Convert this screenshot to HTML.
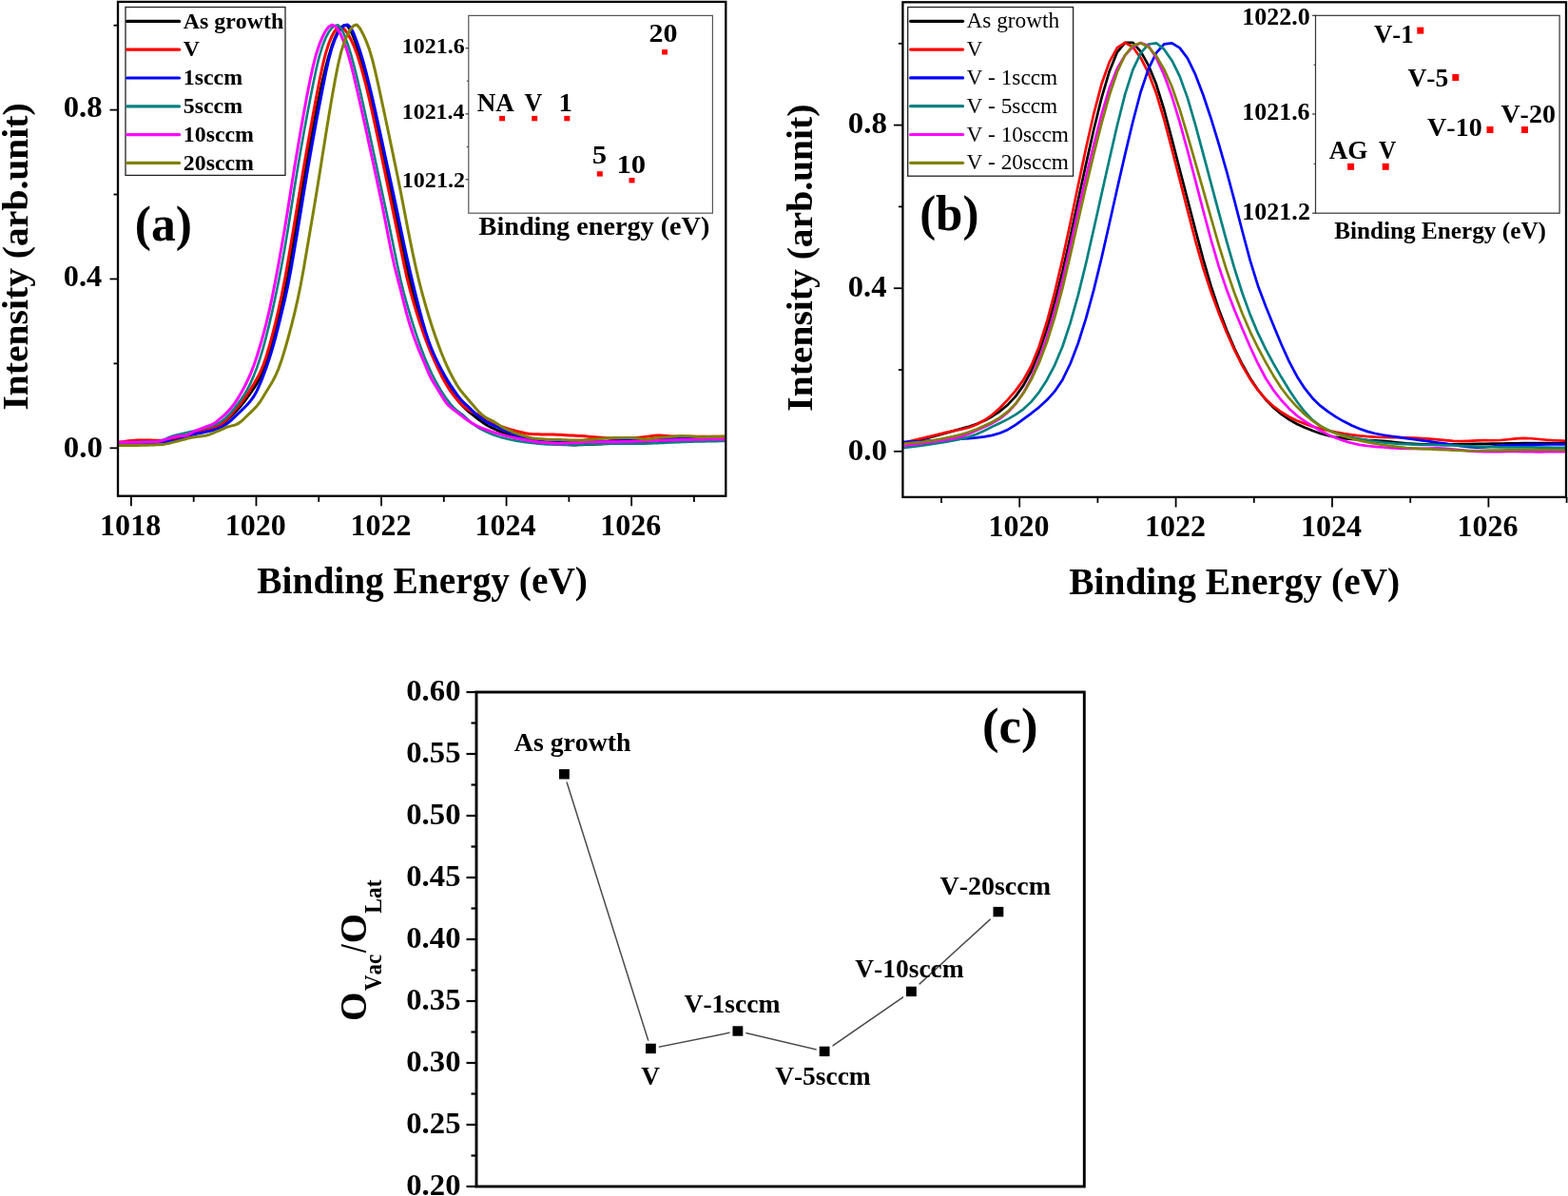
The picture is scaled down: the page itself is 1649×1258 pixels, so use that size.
<!DOCTYPE html>
<html><head><meta charset="utf-8"><title>XPS figure</title>
<style>
html,body{margin:0;padding:0;background:#fff;}
body{width:1649px;height:1258px;overflow:hidden;}
svg{display:block;}
svg text{font-family:"Liberation Serif","Times New Roman",serif;font-kerning:none;}
</style></head>
<body>
<svg width="1649" height="1258" viewBox="0 0 1649 1258">
<rect x="0" y="0" width="1649" height="1258" fill="#fff"/>
<clipPath id="ca"><rect x="124" y="0" width="639.3" height="521"/></clipPath>
<g clip-path="url(#ca)">
<path d="M122.00,466.26 L125.29,466.11 L128.58,466.05 L131.87,466.01 L135.16,465.98 L138.44,465.93 L141.73,465.87 L145.02,465.79 L148.31,465.70 L151.60,465.60 L154.89,465.48 L158.18,465.33 L161.47,465.15 L164.76,464.92 L168.05,464.66 L171.34,464.38 L174.62,464.08 L177.91,463.75 L181.20,463.40 L184.49,462.96 L187.78,462.26 L191.07,461.15 L194.36,459.77 L197.65,458.38 L200.94,457.17 L204.23,456.21 L207.51,455.34 L210.80,454.45 L214.09,453.53 L217.38,452.58 L220.67,451.59 L223.96,450.50 L227.25,449.27 L230.54,447.78 L233.83,445.83 L237.12,443.31 L240.40,440.36 L243.69,437.11 L246.98,433.72 L250.27,430.24 L253.56,426.51 L256.85,422.38 L260.14,417.91 L263.43,413.35 L266.72,408.64 L270.01,403.45 L273.29,397.41 L276.58,390.09 L279.87,381.19 L283.16,370.93 L286.45,359.56 L289.74,347.18 L293.03,334.11 L296.32,320.64 L299.61,306.30 L302.90,289.69 L306.18,270.33 L309.47,250.14 L312.76,230.06 L316.05,209.97 L319.34,190.39 L322.63,171.54 L325.92,153.16 L329.21,135.20 L332.50,117.83 L335.79,101.32 L339.07,85.91 L342.36,71.84 L345.65,59.33 L348.94,48.60 L352.23,39.84 L355.52,33.20 L358.81,28.75 L362.10,26.50 L365.39,27.05 L368.68,31.86 L371.96,39.28 L375.25,48.64 L378.54,59.56 L381.83,71.72 L385.12,84.87 L388.41,98.69 L391.70,112.91 L394.99,127.45 L398.28,142.25 L401.57,157.20 L404.85,172.20 L408.14,187.23 L411.43,202.52 L414.72,218.32 L418.01,234.34 L421.30,250.28 L424.59,266.08 L427.88,281.49 L431.17,295.76 L434.46,308.55 L437.74,320.30 L441.03,331.38 L444.32,341.88 L447.61,351.81 L450.90,361.18 L454.19,369.99 L457.48,378.24 L460.77,385.90 L464.06,392.91 L467.35,399.27 L470.63,405.07 L473.92,410.38 L477.21,415.26 L480.50,419.71 L483.79,423.75 L487.08,427.38 L490.37,430.62 L493.66,433.51 L496.95,436.18 L500.24,438.72 L503.52,441.18 L506.81,443.64 L510.10,446.02 L513.39,448.02 L516.68,449.66 L519.97,451.16 L523.26,452.66 L526.55,454.11 L529.84,455.45 L533.13,456.67 L536.41,457.78 L539.70,458.79 L542.99,459.71 L546.28,460.54 L549.57,461.26 L552.86,461.83 L556.15,462.28 L559.44,462.70 L562.73,463.19 L566.02,463.80 L569.30,464.47 L572.59,465.09 L575.88,465.57 L579.17,465.96 L582.46,466.32 L585.75,466.65 L589.04,466.97 L592.33,467.27 L595.62,467.55 L598.91,467.78 L602.19,467.91 L605.48,467.90 L608.77,467.82 L612.06,467.71 L615.35,467.60 L618.64,467.49 L621.93,467.36 L625.22,467.24 L628.51,467.11 L631.80,466.98 L635.08,466.85 L638.37,466.71 L641.66,466.57 L644.95,466.43 L648.24,466.29 L651.53,466.15 L654.82,466.00 L658.11,465.86 L661.40,465.71 L664.69,465.56 L667.97,465.40 L671.26,465.25 L674.55,465.10 L677.84,464.94 L681.13,464.79 L684.42,464.64 L687.71,464.48 L691.00,464.33 L694.29,464.17 L697.58,464.02 L700.86,463.87 L704.15,463.71 L707.44,463.56 L710.73,463.40 L714.02,463.25 L717.31,463.13 L720.60,463.06 L723.89,463.01 L727.18,462.97 L730.47,462.93 L733.75,462.89 L737.04,462.85 L740.33,462.81 L743.62,462.77 L746.91,462.73 L750.20,462.69 L753.49,462.65 L756.78,462.62 L760.07,462.60 L763.36,462.59" fill="none" stroke="#000000" stroke-width="3.0" stroke-linejoin="round"/>
<path d="M122.00,465.42 L125.29,465.10 L128.58,464.70 L131.87,464.24 L135.16,463.79 L138.44,463.42 L141.73,463.20 L145.02,463.10 L148.31,463.05 L151.60,463.02 L154.89,463.05 L158.18,463.12 L161.47,463.20 L164.76,463.25 L168.05,463.21 L171.34,462.97 L174.62,462.51 L177.91,461.93 L181.20,461.30 L184.49,460.65 L187.78,459.96 L191.07,459.24 L194.36,458.48 L197.65,457.68 L200.94,456.83 L204.23,455.93 L207.51,454.96 L210.80,453.92 L214.09,452.81 L217.38,451.68 L220.67,450.63 L223.96,449.67 L227.25,448.65 L230.54,447.35 L233.83,445.43 L237.12,442.65 L240.40,439.25 L243.69,435.50 L246.98,431.64 L250.27,427.80 L253.56,423.80 L256.85,419.45 L260.14,414.71 L263.43,409.59 L266.72,404.16 L270.01,398.61 L273.29,392.51 L276.58,384.89 L279.87,375.44 L283.16,364.55 L286.45,352.47 L289.74,339.31 L293.03,325.22 L296.32,310.13 L299.61,293.46 L302.90,274.92 L306.18,255.50 L309.47,235.95 L312.76,216.10 L316.05,196.22 L319.34,176.79 L322.63,157.74 L325.92,138.99 L329.21,120.70 L332.50,102.95 L335.79,85.86 L339.07,70.04 L342.36,56.61 L345.65,46.17 L348.94,38.19 L352.23,32.36 L355.52,29.10 L358.81,28.70 L362.10,30.77 L365.39,34.88 L368.68,40.67 L371.96,47.83 L375.25,56.41 L378.54,66.54 L381.83,78.03 L385.12,90.68 L388.41,104.40 L391.70,119.02 L394.99,134.23 L398.28,149.79 L401.57,165.53 L404.85,181.34 L408.14,197.17 L411.43,213.03 L414.72,228.90 L418.01,244.81 L421.30,260.83 L424.59,276.81 L427.88,291.74 L431.17,304.88 L434.46,316.67 L437.74,327.69 L441.03,338.09 L444.32,347.86 L447.61,357.01 L450.90,365.54 L454.19,373.46 L457.48,380.85 L460.77,387.90 L464.06,394.72 L467.35,401.01 L470.63,406.60 L473.92,411.56 L477.21,416.05 L480.50,420.14 L483.79,423.83 L487.08,427.04 L490.37,429.66 L493.66,431.72 L496.95,433.41 L500.24,434.93 L503.52,436.57 L506.81,438.48 L510.10,440.47 L513.39,442.34 L516.68,444.06 L519.97,445.62 L523.26,447.03 L526.55,448.31 L529.84,449.49 L533.13,450.58 L536.41,451.59 L539.70,452.53 L542.99,453.40 L546.28,454.23 L549.57,455.00 L552.86,455.71 L556.15,456.26 L559.44,456.58 L562.73,456.75 L566.02,456.85 L569.30,456.93 L572.59,456.99 L575.88,457.04 L579.17,457.07 L582.46,457.11 L585.75,457.19 L589.04,457.34 L592.33,457.52 L595.62,457.71 L598.91,457.88 L602.19,458.05 L605.48,458.22 L608.77,458.39 L612.06,458.61 L615.35,458.87 L618.64,459.15 L621.93,459.43 L625.22,459.71 L628.51,459.99 L631.80,460.26 L635.08,460.54 L638.37,460.84 L641.66,461.15 L644.95,461.44 L648.24,461.62 L651.53,461.60 L654.82,461.43 L658.11,461.21 L661.40,460.97 L664.69,460.73 L667.97,460.49 L671.26,460.24 L674.55,459.95 L677.84,459.59 L681.13,459.13 L684.42,458.65 L687.71,458.24 L691.00,458.05 L694.29,458.11 L697.58,458.30 L700.86,458.52 L704.15,458.74 L707.44,458.95 L710.73,459.10 L714.02,459.16 L717.31,459.17 L720.60,459.18 L723.89,459.18 L727.18,459.18 L730.47,459.18 L733.75,459.17 L737.04,459.17 L740.33,459.17 L743.62,459.17 L746.91,459.17 L750.20,459.17 L753.49,459.17 L756.78,459.18 L760.07,459.19 L763.36,459.22" fill="none" stroke="#FF0000" stroke-width="3.0" stroke-linejoin="round"/>
<path d="M122.00,466.73 L125.29,466.58 L128.58,466.49 L131.87,466.43 L135.16,466.36 L138.44,466.28 L141.73,466.19 L145.02,466.09 L148.31,465.98 L151.60,465.85 L154.89,465.71 L158.18,465.54 L161.47,465.36 L164.76,465.15 L168.05,464.92 L171.34,464.67 L174.62,464.40 L177.91,464.11 L181.20,463.79 L184.49,463.39 L187.78,462.70 L191.07,461.56 L194.36,460.13 L197.65,458.71 L200.94,457.54 L204.23,456.70 L207.51,456.04 L210.80,455.41 L214.09,454.74 L217.38,454.04 L220.67,453.29 L223.96,452.45 L227.25,451.43 L230.54,450.14 L233.83,448.58 L237.12,446.71 L240.40,444.37 L243.69,441.54 L246.98,438.37 L250.27,435.18 L253.56,432.10 L256.85,428.91 L260.14,425.44 L263.43,421.69 L266.72,417.25 L270.01,411.47 L273.29,404.21 L276.58,396.09 L279.87,387.32 L283.16,377.63 L286.45,366.87 L289.74,354.99 L293.03,342.16 L296.32,328.73 L299.61,314.79 L302.90,299.65 L306.18,282.44 L309.47,263.51 L312.76,243.98 L316.05,224.00 L319.34,203.78 L322.63,184.10 L325.92,165.07 L329.21,146.53 L332.50,128.56 L335.79,111.20 L339.07,94.20 L342.36,77.68 L345.65,62.77 L348.94,50.63 L352.23,41.28 L355.52,34.30 L358.81,29.48 L362.10,26.75 L365.39,26.00 L368.68,28.72 L371.96,35.22 L375.25,43.69 L378.54,53.34 L381.83,64.19 L385.12,76.33 L388.41,89.50 L391.70,103.45 L394.99,117.97 L398.28,132.85 L401.57,147.94 L404.85,163.08 L408.14,178.18 L411.43,193.29 L414.72,208.59 L418.01,224.18 L421.30,239.89 L424.59,255.44 L427.88,270.58 L431.17,285.13 L434.46,299.08 L437.74,312.47 L441.03,325.32 L444.32,337.55 L447.61,348.95 L450.90,359.04 L454.19,367.63 L457.48,375.15 L460.77,382.01 L464.06,388.34 L467.35,394.36 L470.63,400.08 L473.92,405.22 L477.21,410.08 L480.50,414.85 L483.79,419.21 L487.08,422.84 L490.37,425.91 L493.66,428.88 L496.95,432.09 L500.24,435.23 L503.52,437.89 L506.81,440.30 L510.10,442.66 L513.39,444.68 L516.68,446.32 L519.97,447.78 L523.26,449.25 L526.55,450.83 L529.84,452.42 L533.13,453.92 L536.41,455.31 L539.70,456.60 L542.99,457.81 L546.28,458.93 L549.57,459.98 L552.86,460.96 L556.15,461.89 L559.44,462.76 L562.73,463.56 L566.02,464.22 L569.30,464.65 L572.59,464.87 L575.88,464.99 L579.17,465.06 L582.46,465.12 L585.75,465.15 L589.04,465.16 L592.33,465.16 L595.62,465.14 L598.91,465.11 L602.19,465.07 L605.48,465.02 L608.77,464.96 L612.06,464.90 L615.35,464.82 L618.64,464.74 L621.93,464.66 L625.22,464.57 L628.51,464.47 L631.80,464.37 L635.08,464.26 L638.37,464.15 L641.66,464.04 L644.95,463.93 L648.24,463.81 L651.53,463.67 L654.82,463.50 L658.11,463.35 L661.40,463.25 L664.69,463.19 L667.97,463.15 L671.26,463.12 L674.55,463.06 L677.84,462.97 L681.13,462.83 L684.42,462.63 L687.71,462.41 L691.00,462.24 L694.29,462.10 L697.58,461.97 L700.86,461.85 L704.15,461.72 L707.44,461.59 L710.73,461.46 L714.02,461.34 L717.31,461.28 L720.60,461.32 L723.89,461.42 L727.18,461.53 L730.47,461.64 L733.75,461.75 L737.04,461.86 L740.33,461.98 L743.62,462.09 L746.91,462.20 L750.20,462.31 L753.49,462.42 L756.78,462.51 L760.07,462.56 L763.36,462.59" fill="none" stroke="#0000FF" stroke-width="3.0" stroke-linejoin="round"/>
<path d="M122.00,465.77 L125.29,465.58 L128.58,465.45 L131.87,465.35 L135.16,465.24 L138.44,465.12 L141.73,464.98 L145.02,464.83 L148.31,464.69 L151.60,464.57 L154.89,464.47 L158.18,464.38 L161.47,464.27 L164.76,464.09 L168.05,463.70 L171.34,462.83 L174.62,461.46 L177.91,459.95 L181.20,458.70 L184.49,457.81 L187.78,457.08 L191.07,456.35 L194.36,455.60 L197.65,454.81 L200.94,454.02 L204.23,453.23 L207.51,452.41 L210.80,451.53 L214.09,450.60 L217.38,449.65 L220.67,448.68 L223.96,447.64 L227.25,446.41 L230.54,444.78 L233.83,442.54 L237.12,439.75 L240.40,436.53 L243.69,432.92 L246.98,428.90 L250.27,424.57 L253.56,420.03 L256.85,415.12 L260.14,409.54 L263.43,403.08 L266.72,395.63 L270.01,387.10 L273.29,377.43 L276.58,366.56 L279.87,354.42 L283.16,341.11 L286.45,326.86 L289.74,311.78 L293.03,295.73 L296.32,278.57 L299.61,260.21 L302.90,240.53 L306.18,219.70 L309.47,198.75 L312.76,178.65 L316.05,159.39 L319.34,140.77 L322.63,122.82 L325.92,105.51 L329.21,88.72 L332.50,72.92 L335.79,59.29 L339.07,48.54 L342.36,40.22 L345.65,33.84 L348.94,29.40 L352.23,26.93 L355.52,26.30 L358.81,29.80 L362.10,36.69 L365.39,45.58 L368.68,55.92 L371.96,67.72 L375.25,80.83 L378.54,94.84 L381.83,109.37 L385.12,124.25 L388.41,139.40 L391.70,154.74 L394.99,170.13 L398.28,185.47 L401.57,200.72 L404.85,215.94 L408.14,231.34 L411.43,247.20 L414.72,263.39 L418.01,279.38 L421.30,294.25 L424.59,307.49 L427.88,319.53 L431.17,330.85 L434.46,341.55 L437.74,351.66 L441.03,361.17 L444.32,370.09 L447.61,378.43 L450.90,386.17 L454.19,393.26 L457.48,399.67 L460.77,405.57 L464.06,411.16 L467.35,416.32 L470.63,420.92 L473.92,425.06 L477.21,428.77 L480.50,431.83 L483.79,434.22 L487.08,436.60 L490.37,439.60 L493.66,442.84 L496.95,445.65 L500.24,448.00 L503.52,450.06 L506.81,451.93 L510.10,453.62 L513.39,455.14 L516.68,456.51 L519.97,457.75 L523.26,458.87 L526.55,459.88 L529.84,460.79 L533.13,461.61 L536.41,462.34 L539.70,462.99 L542.99,463.61 L546.28,464.18 L549.57,464.70 L552.86,465.16 L556.15,465.58 L559.44,465.96 L562.73,466.31 L566.02,466.64 L569.30,466.93 L572.59,467.19 L575.88,467.38 L579.17,467.52 L582.46,467.63 L585.75,467.72 L589.04,467.80 L592.33,467.87 L595.62,467.93 L598.91,467.97 L602.19,467.96 L605.48,467.89 L608.77,467.78 L612.06,467.67 L615.35,467.55 L618.64,467.42 L621.93,467.30 L625.22,467.17 L628.51,467.04 L631.80,466.91 L635.08,466.78 L638.37,466.69 L641.66,466.66 L644.95,466.65 L648.24,466.65 L651.53,466.65 L654.82,466.65 L658.11,466.65 L661.40,466.65 L664.69,466.65 L667.97,466.65 L671.26,466.65 L674.55,466.64 L677.84,466.61 L681.13,466.54 L684.42,466.41 L687.71,466.27 L691.00,466.13 L694.29,465.98 L697.58,465.84 L700.86,465.70 L704.15,465.55 L707.44,465.41 L710.73,465.26 L714.02,465.12 L717.31,464.97 L720.60,464.83 L723.89,464.71 L727.18,464.62 L730.47,464.54 L733.75,464.48 L737.04,464.41 L740.33,464.34 L743.62,464.27 L746.91,464.21 L750.20,464.14 L753.49,464.08 L756.78,464.02 L760.07,463.99 L763.36,463.98" fill="none" stroke="#008080" stroke-width="2.6" stroke-linejoin="round"/>
<path d="M122.00,465.56 L125.29,465.41 L128.58,465.36 L131.87,465.35 L135.16,465.33 L138.44,465.30 L141.73,465.26 L145.02,465.20 L148.31,465.13 L151.60,465.03 L154.89,464.92 L158.18,464.79 L161.47,464.64 L164.76,464.42 L168.05,463.99 L171.34,463.20 L174.62,462.17 L177.91,461.09 L181.20,460.10 L184.49,459.27 L187.78,458.69 L191.07,458.49 L194.36,458.38 L197.65,457.49 L200.94,455.60 L204.23,453.78 L207.51,452.39 L210.80,451.10 L214.09,449.82 L217.38,448.61 L220.67,447.49 L223.96,446.11 L227.25,443.99 L230.54,441.21 L233.83,438.32 L237.12,435.35 L240.40,432.01 L243.69,428.17 L246.98,423.80 L250.27,418.85 L253.56,413.32 L256.85,407.25 L260.14,400.64 L263.43,393.36 L266.72,384.94 L270.01,375.23 L273.29,364.52 L276.58,353.06 L279.87,340.68 L283.16,326.94 L286.45,311.61 L289.74,294.85 L293.03,276.99 L296.32,258.52 L299.61,239.41 L302.90,219.04 L306.18,197.98 L309.47,177.49 L312.76,157.72 L316.05,138.42 L319.34,119.71 L322.63,101.82 L325.92,85.03 L329.21,69.82 L332.50,56.99 L335.79,46.94 L339.07,38.98 L342.36,32.62 L345.65,28.28 L348.94,26.30 L352.23,27.31 L355.52,31.23 L358.81,37.30 L362.10,45.07 L365.39,54.55 L368.68,66.05 L371.96,79.30 L375.25,93.48 L378.54,107.96 L381.83,122.62 L385.12,137.55 L388.41,152.72 L391.70,168.00 L394.99,183.29 L398.28,198.65 L401.57,214.29 L404.85,230.64 L408.14,247.79 L411.43,264.42 L414.72,279.29 L418.01,292.43 L421.30,304.98 L424.59,318.08 L427.88,330.81 L431.17,342.04 L434.46,352.00 L437.74,361.08 L441.03,369.41 L444.32,377.23 L447.61,385.00 L450.90,392.73 L454.19,399.48 L457.48,405.04 L460.77,410.19 L464.06,415.62 L467.35,420.99 L470.63,425.32 L473.92,428.51 L477.21,431.15 L480.50,433.59 L483.79,436.07 L487.08,438.68 L490.37,441.16 L493.66,443.36 L496.95,445.40 L500.24,447.31 L503.52,448.94 L506.81,450.29 L510.10,451.49 L513.39,452.69 L516.68,453.91 L519.97,455.04 L523.26,456.01 L526.55,456.89 L529.84,457.74 L533.13,458.58 L536.41,459.40 L539.70,460.17 L542.99,460.90 L546.28,461.58 L549.57,462.22 L552.86,462.84 L556.15,463.42 L559.44,463.98 L562.73,464.51 L566.02,464.98 L569.30,465.35 L572.59,465.63 L575.88,465.87 L579.17,466.09 L582.46,466.30 L585.75,466.44 L589.04,466.47 L592.33,466.37 L595.62,466.21 L598.91,466.03 L602.19,465.84 L605.48,465.65 L608.77,465.45 L612.06,465.25 L615.35,465.05 L618.64,464.86 L621.93,464.72 L625.22,464.66 L628.51,464.65 L631.80,464.66 L635.08,464.66 L638.37,464.66 L641.66,464.66 L644.95,464.66 L648.24,464.65 L651.53,464.64 L654.82,464.62 L658.11,464.55 L661.40,464.46 L664.69,464.35 L667.97,464.23 L671.26,464.12 L674.55,464.01 L677.84,463.90 L681.13,463.79 L684.42,463.68 L687.71,463.57 L691.00,463.46 L694.29,463.35 L697.58,463.24 L700.86,463.13 L704.15,463.01 L707.44,462.90 L710.73,462.79 L714.02,462.67 L717.31,462.58 L720.60,462.50 L723.89,462.45 L727.18,462.39 L730.47,462.34 L733.75,462.28 L737.04,462.23 L740.33,462.17 L743.62,462.11 L746.91,462.06 L750.20,462.00 L753.49,461.94 L756.78,461.90 L760.07,461.88 L763.36,461.88" fill="none" stroke="#FF00FF" stroke-width="3.0" stroke-linejoin="round"/>
<path d="M122.00,468.68 L125.29,468.56 L128.58,468.52 L131.87,468.51 L135.16,468.49 L138.44,468.47 L141.73,468.44 L145.02,468.39 L148.31,468.34 L151.60,468.27 L154.89,468.18 L158.18,468.09 L161.47,467.98 L164.76,467.85 L168.05,467.69 L171.34,467.40 L174.62,466.89 L177.91,466.20 L181.20,465.41 L184.49,464.59 L187.78,463.75 L191.07,462.89 L194.36,461.99 L197.65,461.08 L200.94,460.26 L204.23,459.68 L207.51,459.28 L210.80,458.93 L214.09,458.52 L217.38,457.92 L220.67,456.94 L223.96,455.64 L227.25,454.23 L230.54,452.80 L233.83,451.30 L237.12,449.83 L240.40,448.67 L243.69,447.90 L246.98,447.15 L250.27,445.73 L253.56,443.28 L256.85,440.25 L260.14,437.03 L263.43,433.81 L266.72,430.64 L270.01,427.20 L273.29,423.00 L276.58,417.80 L279.87,412.25 L283.16,406.97 L286.45,401.54 L289.74,395.27 L293.03,387.58 L296.32,378.22 L299.61,367.56 L302.90,356.02 L306.18,343.71 L309.47,330.52 L312.76,316.29 L316.05,300.55 L319.34,282.65 L322.63,263.21 L325.92,243.93 L329.21,224.81 L332.50,205.07 L335.79,184.64 L339.07,163.89 L342.36,143.23 L345.65,123.02 L348.94,103.51 L352.23,85.03 L355.52,68.25 L358.81,54.41 L362.10,44.21 L365.39,36.57 L368.68,30.66 L371.96,26.92 L375.25,26.00 L378.54,29.77 L381.83,35.96 L385.12,43.22 L388.41,51.89 L391.70,63.09 L394.99,76.65 L398.28,91.45 L401.57,106.61 L404.85,121.97 L408.14,137.55 L411.43,153.29 L414.72,169.08 L418.01,184.97 L421.30,201.35 L424.59,218.47 L427.88,235.65 L431.17,252.28 L434.46,268.20 L437.74,283.22 L441.03,297.03 L444.32,309.65 L447.61,321.41 L450.90,332.50 L454.19,342.98 L457.48,352.84 L460.77,362.08 L464.06,370.73 L467.35,378.78 L470.63,386.24 L473.92,393.07 L477.21,399.31 L480.50,405.00 L483.79,409.90 L487.08,414.02 L490.37,417.83 L493.66,421.65 L496.95,425.56 L500.24,429.46 L503.52,433.02 L506.81,436.13 L510.10,438.69 L513.39,440.60 L516.68,442.16 L519.97,443.91 L523.26,446.10 L526.55,448.24 L529.84,450.08 L533.13,451.72 L536.41,453.22 L539.70,454.59 L542.99,455.85 L546.28,457.01 L549.57,458.08 L552.86,459.06 L556.15,459.96 L559.44,460.71 L562.73,461.23 L566.02,461.57 L569.30,461.82 L572.59,462.01 L575.88,462.16 L579.17,462.29 L582.46,462.39 L585.75,462.48 L589.04,462.58 L592.33,462.69 L595.62,462.80 L598.91,462.91 L602.19,463.00 L605.48,463.07 L608.77,463.10 L612.06,463.02 L615.35,462.83 L618.64,462.57 L621.93,462.29 L625.22,462.01 L628.51,461.72 L631.80,461.43 L635.08,461.14 L638.37,460.86 L641.66,460.64 L644.95,460.53 L648.24,460.50 L651.53,460.50 L654.82,460.50 L658.11,460.50 L661.40,460.50 L664.69,460.53 L667.97,460.70 L671.26,461.10 L674.55,461.61 L677.84,461.96 L681.13,461.91 L684.42,461.50 L687.71,460.97 L691.00,460.51 L694.29,460.18 L697.58,459.91 L700.86,459.66 L704.15,459.41 L707.44,459.16 L710.73,458.91 L714.02,458.68 L717.31,458.57 L720.60,458.65 L723.89,458.84 L727.18,459.06 L730.47,459.29 L733.75,459.50 L737.04,459.64 L740.33,459.66 L743.62,459.59 L746.91,459.48 L750.20,459.37 L753.49,459.26 L756.78,459.17 L760.07,459.12 L763.36,459.10" fill="none" stroke="#808000" stroke-width="3.0" stroke-linejoin="round"/>
</g>
<rect x="124.00" y="1.90" width="639.30" height="519.80" stroke="#000" stroke-width="2.3" fill="none"/>
<line x1="115.50" y1="471.30" x2="124.00" y2="471.30" stroke="#000" stroke-width="1.8" stroke-linecap="butt"/>
<line x1="119.50" y1="382.38" x2="124.00" y2="382.38" stroke="#000" stroke-width="1.8" stroke-linecap="butt"/>
<line x1="115.50" y1="293.46" x2="124.00" y2="293.46" stroke="#000" stroke-width="1.8" stroke-linecap="butt"/>
<line x1="119.50" y1="204.54" x2="124.00" y2="204.54" stroke="#000" stroke-width="1.8" stroke-linecap="butt"/>
<line x1="115.50" y1="115.62" x2="124.00" y2="115.62" stroke="#000" stroke-width="1.8" stroke-linecap="butt"/>
<line x1="119.50" y1="26.70" x2="124.00" y2="26.70" stroke="#000" stroke-width="1.8" stroke-linecap="butt"/>
<text x="66.75" y="480.50" font-size="30.50" font-weight="bold" textLength="41.10" lengthAdjust="spacingAndGlyphs" fill="#000">0.0</text>
<text x="66.77" y="301.40" font-size="30.50" font-weight="bold" textLength="40.43" lengthAdjust="spacingAndGlyphs" fill="#000">0.4</text>
<text x="66.75" y="123.40" font-size="30.50" font-weight="bold" textLength="40.93" lengthAdjust="spacingAndGlyphs" fill="#000">0.8</text>
<line x1="137.90" y1="521.70" x2="137.90" y2="532.30" stroke="#000" stroke-width="1.8" stroke-linecap="butt"/>
<line x1="203.68" y1="521.70" x2="203.68" y2="527.90" stroke="#000" stroke-width="1.8" stroke-linecap="butt"/>
<line x1="269.46" y1="521.70" x2="269.46" y2="532.30" stroke="#000" stroke-width="1.8" stroke-linecap="butt"/>
<line x1="335.24" y1="521.70" x2="335.24" y2="527.90" stroke="#000" stroke-width="1.8" stroke-linecap="butt"/>
<line x1="401.02" y1="521.70" x2="401.02" y2="532.30" stroke="#000" stroke-width="1.8" stroke-linecap="butt"/>
<line x1="466.80" y1="521.70" x2="466.80" y2="527.90" stroke="#000" stroke-width="1.8" stroke-linecap="butt"/>
<line x1="532.58" y1="521.70" x2="532.58" y2="532.30" stroke="#000" stroke-width="1.8" stroke-linecap="butt"/>
<line x1="598.36" y1="521.70" x2="598.36" y2="527.90" stroke="#000" stroke-width="1.8" stroke-linecap="butt"/>
<line x1="664.14" y1="521.70" x2="664.14" y2="532.30" stroke="#000" stroke-width="1.8" stroke-linecap="butt"/>
<line x1="729.92" y1="521.70" x2="729.92" y2="527.90" stroke="#000" stroke-width="1.8" stroke-linecap="butt"/>
<text x="105.12" y="563.30" font-size="30.50" font-weight="bold" textLength="64.05" lengthAdjust="spacingAndGlyphs" fill="#000">1018</text>
<text x="236.76" y="563.30" font-size="30.50" font-weight="bold" textLength="64.05" lengthAdjust="spacingAndGlyphs" fill="#000">1020</text>
<text x="368.40" y="563.30" font-size="30.50" font-weight="bold" textLength="64.05" lengthAdjust="spacingAndGlyphs" fill="#000">1022</text>
<text x="499.57" y="563.30" font-size="30.50" font-weight="bold" textLength="64.05" lengthAdjust="spacingAndGlyphs" fill="#000">1024</text>
<text x="631.30" y="563.30" font-size="30.50" font-weight="bold" textLength="64.05" lengthAdjust="spacingAndGlyphs" fill="#000">1026</text>
<text x="270.35" y="623.80" font-size="39.00" font-weight="bold" textLength="347.58" lengthAdjust="spacingAndGlyphs" fill="#000">Binding Energy (eV)</text>
<text transform="translate(28.60,431.53) rotate(-90)" x="0" y="0" font-size="38.50" font-weight="bold" textLength="323.17" lengthAdjust="spacingAndGlyphs" fill="#000">Intensity (arb.unit)</text>
<rect x="132.00" y="7.50" width="168.00" height="176.90" stroke="#222" stroke-width="1.3" fill="none"/>
<line x1="133.60" y1="22.40" x2="188.60" y2="22.40" stroke="#000000" stroke-width="3.2" stroke-linecap="round"/>
<text x="192.77" y="29.60" font-size="23.40" font-weight="bold" textLength="105.41" lengthAdjust="spacingAndGlyphs" fill="#000">As growth</text>
<line x1="133.60" y1="52.20" x2="188.60" y2="52.20" stroke="#FF0000" stroke-width="3.2" stroke-linecap="round"/>
<text x="192.77" y="59.40" font-size="23.40" font-weight="bold" textLength="17.24" lengthAdjust="spacingAndGlyphs" fill="#000">V</text>
<line x1="133.60" y1="82.00" x2="188.60" y2="82.00" stroke="#0000FF" stroke-width="3.2" stroke-linecap="round"/>
<text x="192.77" y="89.20" font-size="23.40" font-weight="bold" textLength="62.29" lengthAdjust="spacingAndGlyphs" fill="#000">1sccm</text>
<line x1="133.60" y1="111.80" x2="188.60" y2="111.80" stroke="#008080" stroke-width="3.2" stroke-linecap="round"/>
<text x="192.77" y="119.00" font-size="23.40" font-weight="bold" textLength="62.29" lengthAdjust="spacingAndGlyphs" fill="#000">5sccm</text>
<line x1="133.60" y1="141.60" x2="188.60" y2="141.60" stroke="#FF00FF" stroke-width="3.2" stroke-linecap="round"/>
<text x="192.77" y="148.80" font-size="23.40" font-weight="bold" textLength="74.23" lengthAdjust="spacingAndGlyphs" fill="#000">10sccm</text>
<line x1="133.60" y1="171.40" x2="188.60" y2="171.40" stroke="#808000" stroke-width="3.2" stroke-linecap="round"/>
<text x="192.77" y="178.60" font-size="23.40" font-weight="bold" textLength="74.23" lengthAdjust="spacingAndGlyphs" fill="#000">20sccm</text>
<text x="141.73" y="253.00" font-size="52.00" font-weight="bold" textLength="60.24" lengthAdjust="spacingAndGlyphs" fill="#000">(a)</text>
<rect x="492.80" y="16.40" width="256.60" height="207.80" stroke="#555" stroke-width="1.2" fill="none"/>
<line x1="489.50" y1="50.70" x2="492.80" y2="50.70" stroke="#333" stroke-width="1.2" stroke-linecap="butt"/>
<line x1="489.50" y1="119.80" x2="492.80" y2="119.80" stroke="#333" stroke-width="1.2" stroke-linecap="butt"/>
<line x1="489.50" y1="188.80" x2="492.80" y2="188.80" stroke="#333" stroke-width="1.2" stroke-linecap="butt"/>
<line x1="490.80" y1="85.20" x2="492.80" y2="85.20" stroke="#333" stroke-width="1.0" stroke-linecap="butt"/>
<line x1="490.80" y1="154.40" x2="492.80" y2="154.40" stroke="#333" stroke-width="1.0" stroke-linecap="butt"/>
<text x="422.78" y="55.80" font-size="22.50" font-weight="bold" textLength="65.92" lengthAdjust="spacingAndGlyphs" fill="#000">1021.6</text>
<text x="422.79" y="125.00" font-size="22.50" font-weight="bold" textLength="65.65" lengthAdjust="spacingAndGlyphs" fill="#000">1021.4</text>
<text x="422.77" y="196.90" font-size="22.50" font-weight="bold" textLength="66.26" lengthAdjust="spacingAndGlyphs" fill="#000">1021.2</text>
<rect x="525.10" y="121.90" width="6.00" height="5.40" fill="#FF0000"/>
<rect x="559.20" y="121.90" width="6.00" height="5.40" fill="#FF0000"/>
<rect x="593.30" y="121.90" width="6.00" height="5.40" fill="#FF0000"/>
<rect x="627.80" y="180.20" width="6.00" height="5.40" fill="#FF0000"/>
<rect x="661.50" y="187.00" width="6.00" height="5.40" fill="#FF0000"/>
<rect x="696.00" y="52.10" width="6.00" height="5.40" fill="#FF0000"/>
<text x="501.68" y="117.20" font-size="28.00" font-weight="bold" textLength="39.11" lengthAdjust="spacingAndGlyphs" fill="#000">NA</text>
<text x="551.41" y="117.20" font-size="28.00" font-weight="bold" textLength="18.78" lengthAdjust="spacingAndGlyphs" fill="#000">V</text>
<text x="587.59" y="117.20" font-size="28.00" font-weight="bold" textLength="14.40" lengthAdjust="spacingAndGlyphs" fill="#000">1</text>
<text x="622.77" y="172.20" font-size="28.00" font-weight="bold" textLength="15.35" lengthAdjust="spacingAndGlyphs" fill="#000">5</text>
<text x="648.44" y="181.90" font-size="28.00" font-weight="bold" textLength="30.73" lengthAdjust="spacingAndGlyphs" fill="#000">10</text>
<text x="682.64" y="43.60" font-size="28.00" font-weight="bold" textLength="30.00" lengthAdjust="spacingAndGlyphs" fill="#000">20</text>
<text x="503.63" y="246.80" font-size="27.20" font-weight="bold" textLength="242.71" lengthAdjust="spacingAndGlyphs" fill="#000">Binding energy (eV)</text>
<clipPath id="cb"><rect x="949.4" y="0" width="697.6" height="522"/></clipPath>
<g clip-path="url(#cb)">
<path d="M936.57,467.89 L944.79,466.71 L953.01,465.36 L961.23,463.80 L969.45,462.06 L977.67,460.15 L985.89,458.06 L994.11,455.78 L1002.33,453.36 L1010.55,450.98 L1018.77,448.69 L1026.99,446.00 L1035.21,442.46 L1043.43,438.00 L1051.65,432.52 L1059.87,425.67 L1068.09,416.89 L1076.31,405.41 L1084.53,390.24 L1092.75,370.44 L1100.97,346.09 L1109.19,317.89 L1117.41,285.52 L1125.63,249.12 L1133.85,210.73 L1142.07,172.71 L1150.29,136.27 L1158.51,102.87 L1166.73,74.92 L1174.95,54.85 L1183.17,44.80 L1191.39,44.87 L1199.61,54.18 L1207.83,68.89 L1216.05,88.78 L1224.27,115.49 L1232.49,146.61 L1240.71,178.51 L1248.93,210.10 L1257.15,241.76 L1265.37,272.62 L1273.59,300.84 L1281.81,325.60 L1290.03,347.32 L1298.25,366.51 L1306.47,383.28 L1314.69,397.74 L1322.91,410.03 L1331.13,420.31 L1339.35,428.80 L1347.57,435.75 L1355.79,441.41 L1364.01,446.03 L1372.23,449.83 L1380.45,453.08 L1388.67,455.95 L1396.89,458.29 L1405.11,459.95 L1413.33,461.08 L1421.55,461.90 L1429.77,462.52 L1437.99,462.99 L1446.21,463.39 L1454.43,463.89 L1462.65,464.64 L1470.87,465.55 L1479.09,466.36 L1487.31,466.94 L1495.53,467.35 L1503.75,467.60 L1511.97,467.63 L1520.19,467.54 L1528.41,467.41 L1536.63,467.26 L1544.85,467.12 L1553.07,466.97 L1561.29,466.82 L1569.51,466.67 L1577.73,466.52 L1585.95,466.38 L1594.17,466.25 L1602.39,466.12 L1610.61,466.02 L1618.83,465.99 L1627.05,466.08 L1635.27,466.22 L1643.49,466.37 L1651.71,466.47 L1659.93,466.54 L1668.15,466.62 L1676.37,466.76 L1684.59,466.96" fill="none" stroke="#000000" stroke-width="2.7" stroke-linejoin="round"/>
<path d="M936.57,468.08 L944.79,466.79 L953.01,465.13 L961.23,463.15 L969.45,461.09 L977.67,459.07 L985.89,457.09 L994.11,455.10 L1002.33,453.29 L1010.55,451.76 L1018.77,449.74 L1026.99,446.49 L1035.21,442.02 L1043.43,436.26 L1051.65,428.97 L1059.87,420.38 L1068.09,410.86 L1076.31,399.61 L1084.53,384.71 L1092.75,364.52 L1100.97,338.53 L1109.19,307.63 L1117.41,272.66 L1125.63,234.47 L1133.85,194.93 L1142.07,156.09 L1150.29,119.54 L1158.51,88.31 L1166.73,65.09 L1174.95,50.09 L1183.17,44.90 L1191.39,49.48 L1199.61,60.93 L1207.83,76.97 L1216.05,98.31 L1224.27,125.84 L1232.49,157.09 L1240.71,189.16 L1248.93,221.32 L1257.15,253.06 L1265.37,282.07 L1273.59,307.20 L1281.81,329.38 L1290.03,349.68 L1298.25,368.17 L1306.47,384.59 L1314.69,398.68 L1322.91,410.39 L1331.13,419.89 L1339.35,427.46 L1347.57,433.51 L1355.79,438.43 L1364.01,442.48 L1372.23,445.83 L1380.45,448.62 L1388.67,450.95 L1396.89,452.94 L1405.11,454.69 L1413.33,456.20 L1421.55,457.42 L1429.77,458.38 L1437.99,459.14 L1446.21,459.69 L1454.43,459.99 L1462.65,460.12 L1470.87,460.21 L1479.09,460.39 L1487.31,460.71 L1495.53,461.14 L1503.75,461.67 L1511.97,462.37 L1520.19,463.14 L1528.41,463.79 L1536.63,464.05 L1544.85,463.80 L1553.07,463.37 L1561.29,463.19 L1569.51,463.26 L1577.73,463.02 L1585.95,462.26 L1594.17,461.37 L1602.39,460.93 L1610.61,461.27 L1618.83,462.03 L1627.05,462.74 L1635.27,463.27 L1643.49,463.68 L1651.71,463.94 L1659.93,464.09 L1668.15,464.18 L1676.37,464.25 L1684.59,464.31" fill="none" stroke="#FF0000" stroke-width="2.7" stroke-linejoin="round"/>
<path d="M936.57,465.58 L944.79,465.18 L953.01,464.76 L961.23,464.36 L969.45,463.98 L977.67,463.57 L985.89,463.14 L994.11,462.69 L1002.33,462.24 L1010.55,461.72 L1018.77,461.08 L1026.99,460.29 L1035.21,459.31 L1043.43,457.89 L1051.65,455.54 L1059.87,451.90 L1068.09,446.88 L1076.31,440.92 L1084.53,434.81 L1092.75,428.34 L1100.97,420.82 L1109.19,411.71 L1117.41,399.46 L1125.63,382.53 L1133.85,361.02 L1142.07,334.94 L1150.29,304.92 L1158.51,271.16 L1166.73,234.96 L1174.95,198.18 L1183.17,162.33 L1191.39,127.99 L1199.61,96.74 L1207.83,72.41 L1216.05,55.69 L1224.27,46.32 L1232.49,45.30 L1240.71,50.41 L1248.93,61.36 L1257.15,78.41 L1265.37,100.00 L1273.59,124.63 L1281.81,151.56 L1290.03,180.40 L1298.25,211.10 L1306.47,243.00 L1314.69,273.89 L1322.91,300.47 L1331.13,322.34 L1339.35,342.52 L1347.57,362.20 L1355.79,380.36 L1364.01,395.94 L1372.23,408.66 L1380.45,418.94 L1388.67,426.92 L1396.89,433.19 L1405.11,438.58 L1413.33,443.31 L1421.55,447.46 L1429.77,451.04 L1437.99,453.89 L1446.21,455.97 L1454.43,457.49 L1462.65,458.73 L1470.87,459.92 L1479.09,461.09 L1487.31,462.22 L1495.53,463.31 L1503.75,464.38 L1511.97,465.48 L1520.19,466.71 L1528.41,468.04 L1536.63,469.27 L1544.85,470.15 L1553.07,470.55 L1561.29,470.40 L1569.51,469.70 L1577.73,468.88 L1585.95,468.34 L1594.17,468.04 L1602.39,467.85 L1610.61,467.71 L1618.83,467.59 L1627.05,467.48 L1635.27,467.37 L1643.49,467.29 L1651.71,467.31 L1659.93,467.43 L1668.15,467.67 L1676.37,468.18 L1684.59,468.90" fill="none" stroke="#0000FF" stroke-width="2.7" stroke-linejoin="round"/>
<path d="M936.57,472.53 L944.79,471.58 L953.01,470.59 L961.23,469.58 L969.45,468.54 L977.67,467.44 L985.89,466.24 L994.11,464.90 L1002.33,463.38 L1010.55,461.63 L1018.77,459.54 L1026.99,456.73 L1035.21,453.00 L1043.43,448.90 L1051.65,444.95 L1059.87,440.89 L1068.09,436.20 L1076.31,430.34 L1084.53,422.63 L1092.75,412.52 L1100.97,399.73 L1109.19,384.09 L1117.41,364.45 L1125.63,339.67 L1133.85,310.41 L1142.07,277.00 L1150.29,240.77 L1158.51,203.93 L1166.73,167.52 L1174.95,131.80 L1183.17,99.05 L1191.39,73.44 L1199.61,55.96 L1207.83,46.48 L1216.05,45.30 L1224.27,51.90 L1232.49,63.68 L1240.71,80.34 L1248.93,103.16 L1257.15,131.39 L1265.37,161.93 L1273.59,192.83 L1281.81,223.61 L1290.03,253.83 L1298.25,282.45 L1306.47,308.27 L1314.69,330.89 L1322.91,350.44 L1331.13,367.40 L1339.35,382.62 L1347.57,396.81 L1355.79,410.17 L1364.01,422.50 L1372.23,433.30 L1380.45,441.89 L1388.67,448.07 L1396.89,452.48 L1405.11,455.74 L1413.33,458.16 L1421.55,460.03 L1429.77,461.62 L1437.99,463.10 L1446.21,464.39 L1454.43,465.42 L1462.65,466.20 L1470.87,466.78 L1479.09,467.21 L1487.31,467.54 L1495.53,467.79 L1503.75,467.99 L1511.97,468.15 L1520.19,468.29 L1528.41,468.50 L1536.63,468.82 L1544.85,469.22 L1553.07,469.62 L1561.29,469.97 L1569.51,470.19 L1577.73,470.28 L1585.95,470.30 L1594.17,470.30 L1602.39,470.33 L1610.61,470.41 L1618.83,470.53 L1627.05,470.66 L1635.27,470.79 L1643.49,470.91 L1651.71,471.00 L1659.93,471.07 L1668.15,471.12 L1676.37,471.13 L1684.59,471.12" fill="none" stroke="#008080" stroke-width="2.7" stroke-linejoin="round"/>
<path d="M936.57,470.42 L944.79,469.49 L953.01,468.52 L961.23,467.51 L969.45,466.39 L977.67,465.13 L985.89,463.88 L994.11,462.78 L1002.33,461.45 L1010.55,459.21 L1018.77,456.17 L1026.99,452.74 L1035.21,449.10 L1043.43,445.18 L1051.65,440.35 L1059.87,433.80 L1068.09,424.90 L1076.31,413.04 L1084.53,397.62 L1092.75,378.23 L1100.97,354.72 L1109.19,326.94 L1117.41,294.71 L1125.63,258.61 L1133.85,221.50 L1142.07,186.13 L1150.29,152.32 L1158.51,120.20 L1166.73,92.51 L1174.95,72.03 L1183.17,58.20 L1191.39,49.35 L1199.61,45.00 L1207.83,48.33 L1216.05,60.92 L1224.27,78.93 L1232.49,101.53 L1240.71,128.67 L1248.93,158.69 L1257.15,189.92 L1265.37,221.50 L1273.59,252.27 L1281.81,280.33 L1290.03,304.69 L1298.25,326.03 L1306.47,345.83 L1314.69,364.75 L1322.91,382.49 L1331.13,398.00 L1339.35,410.60 L1347.57,420.97 L1355.79,429.89 L1364.01,437.24 L1372.23,443.09 L1380.45,448.16 L1388.67,452.89 L1396.89,457.14 L1405.11,460.74 L1413.33,463.69 L1421.55,466.05 L1429.77,467.81 L1437.99,469.00 L1446.21,469.83 L1454.43,470.50 L1462.65,471.13 L1470.87,471.67 L1479.09,471.98 L1487.31,471.97 L1495.53,471.78 L1503.75,471.54 L1511.97,471.46 L1520.19,471.79 L1528.41,472.52 L1536.63,473.43 L1544.85,474.31 L1553.07,474.95 L1561.29,475.20 L1569.51,475.17 L1577.73,475.05 L1585.95,474.96 L1594.17,474.95 L1602.39,475.06 L1610.61,475.21 L1618.83,475.29 L1627.05,475.27 L1635.27,475.18 L1643.49,475.10 L1651.71,475.07 L1659.93,475.10 L1668.15,475.17 L1676.37,475.26 L1684.59,475.37" fill="none" stroke="#FF00FF" stroke-width="2.7" stroke-linejoin="round"/>
<path d="M936.57,467.74 L944.79,466.94 L953.01,466.26 L961.23,465.65 L969.45,464.86 L977.67,463.73 L985.89,462.34 L994.11,460.79 L1002.33,459.07 L1010.55,457.07 L1018.77,454.57 L1026.99,451.40 L1035.21,447.82 L1043.43,443.91 L1051.65,439.19 L1059.87,432.95 L1068.09,424.60 L1076.31,413.56 L1084.53,399.36 L1092.75,381.71 L1100.97,360.01 L1109.19,333.79 L1117.41,303.09 L1125.63,268.39 L1133.85,232.23 L1142.07,196.55 L1150.29,162.14 L1158.51,129.55 L1166.73,100.04 L1174.95,75.79 L1183.17,58.01 L1191.39,47.87 L1199.61,45.30 L1207.83,49.46 L1216.05,58.99 L1224.27,72.84 L1232.49,91.22 L1240.71,115.15 L1248.93,142.65 L1257.15,171.12 L1265.37,199.89 L1273.59,229.13 L1281.81,257.92 L1290.03,284.39 L1298.25,308.22 L1306.47,329.71 L1314.69,348.79 L1322.91,365.72 L1331.13,381.14 L1339.35,395.45 L1347.57,408.23 L1355.79,418.96 L1364.01,428.08 L1372.23,435.99 L1380.45,442.73 L1388.67,448.27 L1396.89,452.64 L1405.11,456.08 L1413.33,458.90 L1421.55,461.30 L1429.77,463.39 L1437.99,465.18 L1446.21,466.71 L1454.43,468.04 L1462.65,469.20 L1470.87,470.19 L1479.09,470.98 L1487.31,471.58 L1495.53,472.03 L1503.75,472.42 L1511.97,472.79 L1520.19,473.17 L1528.41,473.56 L1536.63,473.88 L1544.85,474.03 L1553.07,474.00 L1561.29,473.87 L1569.51,473.71 L1577.73,473.56 L1585.95,473.42 L1594.17,473.29 L1602.39,473.16 L1610.61,473.06 L1618.83,473.03 L1627.05,473.12 L1635.27,473.26 L1643.49,473.41 L1651.71,473.53 L1659.93,473.63 L1668.15,473.75 L1676.37,473.94 L1684.59,474.19" fill="none" stroke="#808000" stroke-width="2.7" stroke-linejoin="round"/>
</g>
<rect x="949.40" y="2.30" width="697.60" height="520.60" stroke="#000" stroke-width="2.3" fill="none"/>
<line x1="939.90" y1="474.80" x2="949.40" y2="474.80" stroke="#000" stroke-width="1.8" stroke-linecap="butt"/>
<line x1="944.90" y1="389.00" x2="949.40" y2="389.00" stroke="#000" stroke-width="1.8" stroke-linecap="butt"/>
<line x1="939.90" y1="303.20" x2="949.40" y2="303.20" stroke="#000" stroke-width="1.8" stroke-linecap="butt"/>
<line x1="944.90" y1="217.40" x2="949.40" y2="217.40" stroke="#000" stroke-width="1.8" stroke-linecap="butt"/>
<line x1="939.90" y1="131.60" x2="949.40" y2="131.60" stroke="#000" stroke-width="1.8" stroke-linecap="butt"/>
<line x1="944.90" y1="45.80" x2="949.40" y2="45.80" stroke="#000" stroke-width="1.8" stroke-linecap="butt"/>
<text x="891.74" y="483.80" font-size="30.50" font-weight="bold" textLength="41.32" lengthAdjust="spacingAndGlyphs" fill="#000">0.0</text>
<text x="891.76" y="312.10" font-size="30.50" font-weight="bold" textLength="40.64" lengthAdjust="spacingAndGlyphs" fill="#000">0.4</text>
<text x="891.75" y="140.30" font-size="30.50" font-weight="bold" textLength="41.15" lengthAdjust="spacingAndGlyphs" fill="#000">0.8</text>
<line x1="990.00" y1="522.90" x2="990.00" y2="528.90" stroke="#000" stroke-width="1.8" stroke-linecap="butt"/>
<line x1="1072.20" y1="522.90" x2="1072.20" y2="533.50" stroke="#000" stroke-width="1.8" stroke-linecap="butt"/>
<line x1="1154.40" y1="522.90" x2="1154.40" y2="528.90" stroke="#000" stroke-width="1.8" stroke-linecap="butt"/>
<line x1="1236.60" y1="522.90" x2="1236.60" y2="533.50" stroke="#000" stroke-width="1.8" stroke-linecap="butt"/>
<line x1="1318.80" y1="522.90" x2="1318.80" y2="528.90" stroke="#000" stroke-width="1.8" stroke-linecap="butt"/>
<line x1="1401.00" y1="522.90" x2="1401.00" y2="533.50" stroke="#000" stroke-width="1.8" stroke-linecap="butt"/>
<line x1="1483.20" y1="522.90" x2="1483.20" y2="528.90" stroke="#000" stroke-width="1.8" stroke-linecap="butt"/>
<line x1="1565.40" y1="522.90" x2="1565.40" y2="533.50" stroke="#000" stroke-width="1.8" stroke-linecap="butt"/>
<line x1="1647.60" y1="522.90" x2="1647.60" y2="528.90" stroke="#000" stroke-width="1.8" stroke-linecap="butt"/>
<text x="1039.50" y="564.30" font-size="30.50" font-weight="bold" textLength="64.05" lengthAdjust="spacingAndGlyphs" fill="#000">1020</text>
<text x="1203.98" y="564.30" font-size="30.50" font-weight="bold" textLength="64.05" lengthAdjust="spacingAndGlyphs" fill="#000">1022</text>
<text x="1367.99" y="564.30" font-size="30.50" font-weight="bold" textLength="64.05" lengthAdjust="spacingAndGlyphs" fill="#000">1024</text>
<text x="1532.56" y="564.30" font-size="30.50" font-weight="bold" textLength="64.05" lengthAdjust="spacingAndGlyphs" fill="#000">1026</text>
<text x="1124.35" y="624.70" font-size="39.00" font-weight="bold" textLength="347.88" lengthAdjust="spacingAndGlyphs" fill="#000">Binding Energy (eV)</text>
<text transform="translate(853.60,432.73) rotate(-90)" x="0" y="0" font-size="38.50" font-weight="bold" textLength="323.17" lengthAdjust="spacingAndGlyphs" fill="#000">Intensity (arb.unit)</text>
<rect x="954.70" y="7.50" width="173.90" height="177.70" stroke="#222" stroke-width="1.3" fill="none"/>
<line x1="957.60" y1="22.30" x2="1012.60" y2="22.30" stroke="#000000" stroke-width="3.2" stroke-linecap="round"/>
<text x="1016.47" y="29.40" font-size="23.30" font-weight="normal" textLength="97.73" lengthAdjust="spacingAndGlyphs" fill="#000">As growth</text>
<line x1="957.60" y1="52.10" x2="1012.60" y2="52.10" stroke="#FF0000" stroke-width="3.2" stroke-linecap="round"/>
<text x="1016.47" y="59.20" font-size="23.30" font-weight="normal" textLength="16.83" lengthAdjust="spacingAndGlyphs" fill="#000">V</text>
<line x1="957.60" y1="81.90" x2="1012.60" y2="81.90" stroke="#0000FF" stroke-width="3.2" stroke-linecap="round"/>
<text x="1016.47" y="89.00" font-size="23.30" font-weight="normal" textLength="95.76" lengthAdjust="spacingAndGlyphs" fill="#000">V - 1sccm</text>
<line x1="957.60" y1="111.70" x2="1012.60" y2="111.70" stroke="#008080" stroke-width="3.2" stroke-linecap="round"/>
<text x="1016.47" y="118.80" font-size="23.30" font-weight="normal" textLength="95.76" lengthAdjust="spacingAndGlyphs" fill="#000">V - 5sccm</text>
<line x1="957.60" y1="141.50" x2="1012.60" y2="141.50" stroke="#FF00FF" stroke-width="3.2" stroke-linecap="round"/>
<text x="1016.47" y="148.60" font-size="23.30" font-weight="normal" textLength="107.41" lengthAdjust="spacingAndGlyphs" fill="#000">V - 10sccm</text>
<line x1="957.60" y1="171.30" x2="1012.60" y2="171.30" stroke="#808000" stroke-width="3.2" stroke-linecap="round"/>
<text x="1016.47" y="178.40" font-size="23.30" font-weight="normal" textLength="107.41" lengthAdjust="spacingAndGlyphs" fill="#000">V - 20sccm</text>
<text x="967.16" y="242.00" font-size="52.00" font-weight="bold" textLength="62.28" lengthAdjust="spacingAndGlyphs" fill="#000">(b)</text>
<rect x="1383.50" y="16.30" width="256.60" height="207.90" stroke="#333" stroke-width="1.2" fill="none"/>
<line x1="1380.10" y1="16.30" x2="1383.50" y2="16.30" stroke="#333" stroke-width="1.2" stroke-linecap="butt"/>
<line x1="1380.10" y1="120.00" x2="1383.50" y2="120.00" stroke="#333" stroke-width="1.2" stroke-linecap="butt"/>
<line x1="1380.10" y1="224.20" x2="1383.50" y2="224.20" stroke="#333" stroke-width="1.2" stroke-linecap="butt"/>
<line x1="1381.50" y1="68.20" x2="1383.50" y2="68.20" stroke="#333" stroke-width="1.0" stroke-linecap="butt"/>
<line x1="1381.50" y1="172.30" x2="1383.50" y2="172.30" stroke="#333" stroke-width="1.0" stroke-linecap="butt"/>
<text x="1306.32" y="25.60" font-size="25.00" font-weight="bold" textLength="71.47" lengthAdjust="spacingAndGlyphs" fill="#000">1022.0</text>
<text x="1306.33" y="126.00" font-size="25.00" font-weight="bold" textLength="71.23" lengthAdjust="spacingAndGlyphs" fill="#000">1021.6</text>
<text x="1306.31" y="230.80" font-size="25.00" font-weight="bold" textLength="71.60" lengthAdjust="spacingAndGlyphs" fill="#000">1021.2</text>
<rect x="1417.10" y="171.80" width="7.00" height="7.00" fill="#FF0000"/>
<rect x="1453.70" y="171.80" width="7.00" height="7.00" fill="#FF0000"/>
<rect x="1490.30" y="28.60" width="7.00" height="7.00" fill="#FF0000"/>
<rect x="1527.30" y="78.00" width="7.00" height="7.00" fill="#FF0000"/>
<rect x="1563.50" y="133.00" width="7.00" height="7.00" fill="#FF0000"/>
<rect x="1600.00" y="133.00" width="7.00" height="7.00" fill="#FF0000"/>
<text x="1444.90" y="45.00" font-size="28.00" font-weight="bold" textLength="41.79" lengthAdjust="spacingAndGlyphs" fill="#000">V-1</text>
<text x="1480.39" y="91.40" font-size="28.00" font-weight="bold" textLength="42.92" lengthAdjust="spacingAndGlyphs" fill="#000">V-5</text>
<text x="1501.09" y="143.00" font-size="28.00" font-weight="bold" textLength="57.58" lengthAdjust="spacingAndGlyphs" fill="#000">V-10</text>
<text x="1578.39" y="129.30" font-size="28.00" font-weight="bold" textLength="57.58" lengthAdjust="spacingAndGlyphs" fill="#000">V-20</text>
<text x="1397.73" y="166.60" font-size="28.00" font-weight="bold" textLength="40.81" lengthAdjust="spacingAndGlyphs" fill="#000">AG</text>
<text x="1449.92" y="166.60" font-size="28.00" font-weight="bold" textLength="18.27" lengthAdjust="spacingAndGlyphs" fill="#000">V</text>
<text x="1403.18" y="250.80" font-size="25.80" font-weight="bold" textLength="222.83" lengthAdjust="spacingAndGlyphs" fill="#000">Binding Energy (eV)</text>
<rect x="501.00" y="728.00" width="639.30" height="520.00" stroke="#000" stroke-width="2.9" fill="none"/>
<line x1="490.50" y1="728.00" x2="501.00" y2="728.00" stroke="#000" stroke-width="2.2" stroke-linecap="butt"/>
<line x1="495.50" y1="760.50" x2="501.00" y2="760.50" stroke="#000" stroke-width="2.2" stroke-linecap="butt"/>
<line x1="490.50" y1="793.00" x2="501.00" y2="793.00" stroke="#000" stroke-width="2.2" stroke-linecap="butt"/>
<line x1="495.50" y1="825.50" x2="501.00" y2="825.50" stroke="#000" stroke-width="2.2" stroke-linecap="butt"/>
<line x1="490.50" y1="858.00" x2="501.00" y2="858.00" stroke="#000" stroke-width="2.2" stroke-linecap="butt"/>
<line x1="495.50" y1="890.50" x2="501.00" y2="890.50" stroke="#000" stroke-width="2.2" stroke-linecap="butt"/>
<line x1="490.50" y1="923.00" x2="501.00" y2="923.00" stroke="#000" stroke-width="2.2" stroke-linecap="butt"/>
<line x1="495.50" y1="955.50" x2="501.00" y2="955.50" stroke="#000" stroke-width="2.2" stroke-linecap="butt"/>
<line x1="490.50" y1="988.00" x2="501.00" y2="988.00" stroke="#000" stroke-width="2.2" stroke-linecap="butt"/>
<line x1="495.50" y1="1020.50" x2="501.00" y2="1020.50" stroke="#000" stroke-width="2.2" stroke-linecap="butt"/>
<line x1="490.50" y1="1053.00" x2="501.00" y2="1053.00" stroke="#000" stroke-width="2.2" stroke-linecap="butt"/>
<line x1="495.50" y1="1085.50" x2="501.00" y2="1085.50" stroke="#000" stroke-width="2.2" stroke-linecap="butt"/>
<line x1="490.50" y1="1118.00" x2="501.00" y2="1118.00" stroke="#000" stroke-width="2.2" stroke-linecap="butt"/>
<line x1="495.50" y1="1150.50" x2="501.00" y2="1150.50" stroke="#000" stroke-width="2.2" stroke-linecap="butt"/>
<line x1="490.50" y1="1183.00" x2="501.00" y2="1183.00" stroke="#000" stroke-width="2.2" stroke-linecap="butt"/>
<line x1="495.50" y1="1215.50" x2="501.00" y2="1215.50" stroke="#000" stroke-width="2.2" stroke-linecap="butt"/>
<line x1="490.50" y1="1248.00" x2="501.00" y2="1248.00" stroke="#000" stroke-width="2.2" stroke-linecap="butt"/>
<text x="427.25" y="737.00" font-size="30.80" font-weight="bold" textLength="57.29" lengthAdjust="spacingAndGlyphs" fill="#000">0.60</text>
<text x="427.25" y="802.00" font-size="30.80" font-weight="bold" textLength="57.24" lengthAdjust="spacingAndGlyphs" fill="#000">0.55</text>
<text x="427.25" y="867.00" font-size="30.80" font-weight="bold" textLength="57.29" lengthAdjust="spacingAndGlyphs" fill="#000">0.50</text>
<text x="427.25" y="932.00" font-size="30.80" font-weight="bold" textLength="57.24" lengthAdjust="spacingAndGlyphs" fill="#000">0.45</text>
<text x="427.25" y="997.00" font-size="30.80" font-weight="bold" textLength="57.29" lengthAdjust="spacingAndGlyphs" fill="#000">0.40</text>
<text x="427.25" y="1062.00" font-size="30.80" font-weight="bold" textLength="57.24" lengthAdjust="spacingAndGlyphs" fill="#000">0.35</text>
<text x="427.25" y="1127.00" font-size="30.80" font-weight="bold" textLength="57.29" lengthAdjust="spacingAndGlyphs" fill="#000">0.30</text>
<text x="427.25" y="1192.00" font-size="30.80" font-weight="bold" textLength="57.24" lengthAdjust="spacingAndGlyphs" fill="#000">0.25</text>
<text x="427.25" y="1257.00" font-size="30.80" font-weight="bold" textLength="57.29" lengthAdjust="spacingAndGlyphs" fill="#000">0.20</text>
<path d="M593.4,814.3 L684.4,1102.9 L775.9,1084.5 L867.1,1105.9 L958.4,1042.9 L1049.9,959.1" fill="none" stroke="#4a4a4a" stroke-width="1.5"/>
<rect x="585.00" y="806.10" width="16.80" height="16.40" fill="#fff"/>
<rect x="676.00" y="1094.70" width="16.80" height="16.40" fill="#fff"/>
<rect x="767.50" y="1076.30" width="16.80" height="16.40" fill="#fff"/>
<rect x="858.70" y="1097.70" width="16.80" height="16.40" fill="#fff"/>
<rect x="950.00" y="1034.70" width="16.80" height="16.40" fill="#fff"/>
<rect x="1041.50" y="950.90" width="16.80" height="16.40" fill="#fff"/>
<rect x="588.00" y="809.10" width="10.80" height="10.40" fill="#000"/>
<rect x="679.00" y="1097.70" width="10.80" height="10.40" fill="#000"/>
<rect x="770.50" y="1079.30" width="10.80" height="10.40" fill="#000"/>
<rect x="861.70" y="1100.70" width="10.80" height="10.40" fill="#000"/>
<rect x="953.00" y="1037.70" width="10.80" height="10.40" fill="#000"/>
<rect x="1044.50" y="953.90" width="10.80" height="10.40" fill="#000"/>
<text x="540.83" y="789.50" font-size="26.50" font-weight="bold" textLength="122.69" lengthAdjust="spacingAndGlyphs" fill="#000">As growth</text>
<text x="674.39" y="1141.30" font-size="26.50" font-weight="bold" textLength="19.71" lengthAdjust="spacingAndGlyphs" fill="#000">V</text>
<text x="719.49" y="1064.60" font-size="26.50" font-weight="bold" textLength="101.08" lengthAdjust="spacingAndGlyphs" fill="#000">V-1sccm</text>
<text x="815.19" y="1141.30" font-size="26.50" font-weight="bold" textLength="100.48" lengthAdjust="spacingAndGlyphs" fill="#000">V-5sccm</text>
<text x="899.29" y="1027.70" font-size="26.50" font-weight="bold" textLength="114.38" lengthAdjust="spacingAndGlyphs" fill="#000">V-10sccm</text>
<text x="988.49" y="941.00" font-size="26.50" font-weight="bold" textLength="116.49" lengthAdjust="spacingAndGlyphs" fill="#000">V-20sccm</text>
<text x="1032.98" y="781.00" font-size="52.00" font-weight="bold" textLength="58.54" lengthAdjust="spacingAndGlyphs" fill="#000">(c)</text>
<text transform="translate(385.40,1074.11) rotate(-90)" x="0" y="0" font-size="39.20" font-weight="bold" textLength="30.42" lengthAdjust="spacingAndGlyphs" fill="#000">O</text>
<text transform="translate(400.80,1041.96) rotate(-90)" x="0" y="0" font-size="24.50" font-weight="bold" textLength="38.23" lengthAdjust="spacingAndGlyphs" fill="#000">Vac</text>
<text transform="translate(385.40,1001.90) rotate(-90)" x="0" y="0" font-size="39.20" font-weight="bold" textLength="8.67" lengthAdjust="spacingAndGlyphs" fill="#000">/</text>
<text transform="translate(385.40,992.15) rotate(-90)" x="0" y="0" font-size="39.20" font-weight="bold" textLength="31.11" lengthAdjust="spacingAndGlyphs" fill="#000">O</text>
<text transform="translate(400.80,960.70) rotate(-90)" x="0" y="0" font-size="24.50" font-weight="bold" textLength="35.31" lengthAdjust="spacingAndGlyphs" fill="#000">Lat</text>
</svg>
</body></html>
